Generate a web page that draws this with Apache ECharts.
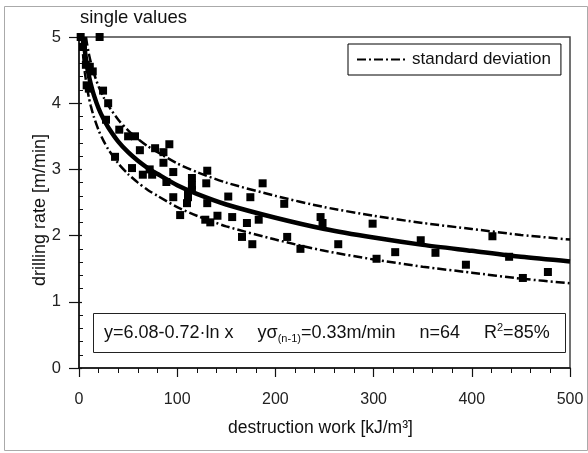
<!DOCTYPE html>
<html>
<head>
<meta charset="utf-8">
<script src="https://cdn.jsdelivr.net/npm/echarts@6/dist/echarts.min.js"></script>
<style>
html,body{margin:0;padding:0;background:#fff;}
#chart{width:588px;height:453px;}
</style>
</head>
<body>
<div id="chart"></div>
<script>
// ---- data ----
var pointX = [1.7, 21, 7, 11, 14, 7.8, 24.5, 29.7, 27.5, 41, 50, 57, 62, 77.5, 86, 92, 86, 36.7, 54, 65, 74.5, 72, 89, 96, 115, 115, 115, 111, 111, 96, 110, 103, 130.6, 129.6, 130.6, 152, 174.5, 187, 209, 141, 156, 171, 183, 128.6, 133.7, 166, 176.5, 212, 225.5, 246, 248, 264, 299, 322, 303, 348, 363, 394, 421, 438, 452, 477.5, 4, 10];
var pointY = [5.0, 5.0, 4.58, 4.55, 4.48, 4.27, 4.19, 4.0, 3.75, 3.6, 3.5, 3.5, 3.29, 3.32, 3.26, 3.38, 3.1, 3.19, 3.02, 2.92, 2.92, 3.0, 2.81, 2.96, 2.87, 2.76, 2.69, 2.64, 2.58, 2.58, 2.49, 2.31, 2.98, 2.79, 2.49, 2.59, 2.58, 2.79, 2.48, 2.3, 2.28, 2.19, 2.24, 2.24, 2.2, 1.98, 1.87, 1.98, 1.8, 2.28, 2.19, 1.87, 2.18, 1.75, 1.65, 1.93, 1.74, 1.56, 1.99, 1.68, 1.36, 1.45, 4.85, 4.22];

var fitX = [4.5, 6, 8, 10, 12, 15, 20, 25, 30, 40, 50, 60, 70, 80, 100, 120, 150, 200, 250, 300, 350, 400, 450, 500];
var fitY = [5.00, 4.79, 4.58, 4.42, 4.29, 4.13, 3.92, 3.76, 3.63, 3.42, 3.26, 3.13, 3.02, 2.93, 2.76, 2.63, 2.47, 2.27, 2.10, 1.97, 1.86, 1.77, 1.68, 1.61];

var upperX = [7.1, 8, 10, 12, 15, 20, 25, 30, 40, 50, 60, 70, 80, 100, 120, 150, 200, 250, 300, 350, 400, 450, 500];
var upperY = [5.00, 4.91, 4.75, 4.62, 4.46, 4.25, 4.09, 3.96, 3.75, 3.59, 3.46, 3.35, 3.26, 3.09, 2.96, 2.80, 2.60, 2.43, 2.30, 2.19, 2.10, 2.01, 1.94];

var lowerX = [2.8, 3.5, 4.5, 6, 8, 10, 12, 15, 20, 25, 30, 40, 50, 60, 70, 80, 100, 120, 150, 200, 250, 300, 350, 400, 450, 500];
var lowerY = [5.00, 4.85, 4.67, 4.46, 4.25, 4.09, 3.96, 3.80, 3.59, 3.43, 3.30, 3.09, 2.93, 2.80, 2.69, 2.60, 2.43, 2.30, 2.14, 1.94, 1.77, 1.64, 1.53, 1.44, 1.35, 1.28];

var xTicks = [0, 100, 200, 300, 400, 500];
var yTicks = [0, 1, 2, 3, 4, 5];

function zip(a, b) { return a.map(function (v, i) { return [v, b[i]]; }); }

var FONT = '"Liberation Sans", Arial, sans-serif';
var dashDot = [9, 3, 2, 3];

var chart = echarts.init(document.getElementById('chart'), null, {renderer: 'canvas'});
chart.setOption({
  animation: false,
  backgroundColor: '#fff',
  textStyle: {fontFamily: FONT},
  grid: {left: 79, top: 37, right: 18, bottom: 85, show: true, borderColor: '#444', borderWidth: 1.5, backgroundColor: 'transparent'},
  legend: {
    data: ['standard deviation'],
    left: 348, top: 44,
    itemWidth: 50, itemHeight: 14, itemGap: 11,
    padding: [7, 10, 7, 8],
    borderColor: '#000', borderWidth: 1,
    backgroundColor: '#fff',
    itemStyle: {color: 'rgba(0,0,0,0)', borderWidth: 0},
    textStyle: {fontSize: 17, color: '#111', fontFamily: FONT}
  },
  xAxis: {
    type: 'value', min: xTicks[0], max: xTicks[xTicks.length - 1], interval: 100,
    name: 'destruction work [kJ/m³]', nameLocation: 'middle', nameGap: 51,
    nameTextStyle: {fontSize: 17.5, color: '#111', fontFamily: FONT, padding: [0, 8, 0, 0]},
    axisLine: {lineStyle: {color: '#111', width: 1.5}},
    axisTick: {length: 9, lineStyle: {color: '#111', width: 1.2}},
    minorTick: {show: true, splitNumber: 5, length: 5, lineStyle: {color: '#111', width: 1}},
    splitLine: {show: false},
    axisLabel: {fontSize: 16, color: '#222', margin: 24, fontFamily: FONT}
  },
  yAxis: [{
    type: 'value', min: yTicks[0], max: yTicks[yTicks.length - 1], interval: 1,
    axisLine: {lineStyle: {color: '#111', width: 1.5}},
    axisTick: {length: 10, lineStyle: {color: '#111', width: 1.2}},
    minorTick: {show: false},
    splitLine: {show: false},
    axisLabel: {fontSize: 16.5, color: '#222', margin: 18, fontFamily: FONT}
  }, {
    type: 'value', min: yTicks[0], max: yTicks[yTicks.length - 1], interval: 1,
    position: 'left', offset: 0,
    axisLine: {show: false},
    axisTick: {show: true, inside: true, length: 3, lineStyle: {color: '#111', width: 1.2}},
    minorTick: {show: true, splitNumber: 5, length: 4, lineStyle: {color: '#111', width: 1}},
    splitLine: {show: false},
    axisLabel: {show: false}
  }],
  series: [
    {
      name: 'single values', type: 'scatter', data: zip(pointX, pointY),
      symbol: 'rect', symbolSize: 8, clip: false,
      itemStyle: {color: '#000', opacity: 1}, z: 5
    },
    {
      name: 'fit', type: 'line', data: zip(fitX, fitY),
      symbol: 'none', smooth: 0.25,
      itemStyle: {color: '#000'},
      lineStyle: {color: '#000', width: 4.5}, z: 4
    },
    {
      name: 'standard deviation', type: 'line', data: zip(upperX, upperY),
      symbol: 'none', smooth: 0.25,
      itemStyle: {color: '#000'},
      lineStyle: {color: '#000', width: 2.5, type: dashDot}, z: 3
    },
    {
      name: 'standard deviation', type: 'line', data: zip(lowerX, lowerY),
      symbol: 'none', smooth: 0.25,
      itemStyle: {color: '#000'},
      lineStyle: {color: '#000', width: 2.5, type: dashDot}, z: 3
    }
  ],
  graphic: [
    {
      type: 'rect', left: 2, top: 4, z: 0,
      shape: {width: 583, height: 444},
      style: {fill: 'none', stroke: '#aaa', lineWidth: 1}
    },
    {
      type: 'text', left: 80, top: 8,
      style: {text: 'single values', font: '18.5px ' + FONT, fill: '#111'}
    },
    {
      type: 'text', x: 40, y: 210, rotation: Math.PI / 2,
      style: {text: 'drilling rate [m/min]', font: '18px ' + FONT, fill: '#111', align: 'center', verticalAlign: 'middle'}
    },
    {
      type: 'rect', left: 93, top: 313, z: 10,
      shape: {width: 472, height: 39},
      style: {fill: '#fff', stroke: '#222', lineWidth: 1}
    },
    {
      type: 'text', left: 104, top: 322, z: 11,
      style: {
        text: '{a|y=6.08-0.72·ln x}{g|}{a|yσ}{sub|(n-1)}{a|=0.33m/min}{g|}{a|n=64}{g|}{a|R}{sup|2}{a|=85%}',
        rich: {
          a: {fontSize: 18, fontFamily: FONT, fill: '#111', lineHeight: 22, verticalAlign: 'middle'},
          g: {width: 24, fontSize: 18, lineHeight: 22},
          sub: {fontSize: 11, fontFamily: FONT, fill: '#111', lineHeight: 11, verticalAlign: 'bottom'},
          sup: {fontSize: 11, fontFamily: FONT, fill: '#111', lineHeight: 11, verticalAlign: 'top'}
        }
      }
    }
  ]
});
</script>
</body>
</html>
